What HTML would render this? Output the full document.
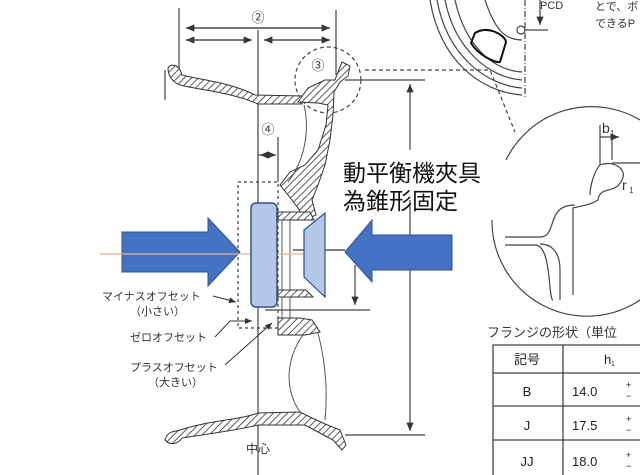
<!DOCTYPE html>
<html><head><meta charset="utf-8"><style>
body{margin:0;background:#fff}
svg{display:block}
text{font-family:"Liberation Sans","Noto Sans CJK JP",sans-serif}
</style></head><body>
<svg width="640" height="475" viewBox="0 0 640 475" xmlns="http://www.w3.org/2000/svg">
<defs>
<pattern id="h" width="5" height="5" patternUnits="userSpaceOnUse" patternTransform="rotate(45)">
<rect width="5" height="5" fill="#fff"/><line x1="0" y1="0" x2="0" y2="5" stroke="#333" stroke-width="1.6"/></pattern>
<marker id="a" markerWidth="8" markerHeight="8" refX="7" refY="4" orient="auto"><path d="M0,1 L7,4 L0,7z" fill="#333"/></marker>
</defs>
<g stroke="#444" fill="none" stroke-width="1.2">
<line x1="179" y1="8" x2="179" y2="68"/><line x1="336" y1="10" x2="336" y2="75"/>
<line x1="258" y1="30" x2="258" y2="475"/>
<line x1="186" y1="28" x2="330" y2="28" marker-end="url(#a)"/><line x1="330" y1="28" x2="186" y2="28" marker-end="url(#a)"/>
<line x1="250" y1="40" x2="186" y2="40" marker-end="url(#a)"/><line x1="186" y1="40" x2="252" y2="40" marker-end="url(#a)"/>
<line x1="330" y1="40" x2="264" y2="40" marker-end="url(#a)"/><line x1="264" y1="40" x2="330" y2="40" marker-end="url(#a)"/>
<line x1="165" y1="70" x2="165" y2="100"/>
<line x1="278" y1="137" x2="278" y2="182"/>
<line x1="258" y1="155" x2="276" y2="155" marker-end="url(#a)"/><line x1="276" y1="155" x2="260" y2="155" marker-end="url(#a)"/>
<line x1="345" y1="80" x2="425" y2="80"/><line x1="345" y1="435" x2="425" y2="435"/>
<line x1="410" y1="150" x2="410" y2="84" marker-end="url(#a)"/><line x1="410" y1="200" x2="410" y2="431" marker-end="url(#a)"/>
<line x1="355" y1="265" x2="355" y2="305" marker-end="url(#a)"/>
<line x1="265" y1="310" x2="370" y2="310"/>
<circle cx="328" cy="80" r="33" stroke-dasharray="4,3"/>
<path d="M365,70 H490 L515,132" stroke-dasharray="4,3"/>
<rect x="238" y="182" width="40" height="146" stroke-dasharray="3,3"/>
<path d="M506,160 A95,95 0 0,1 640,120" /><path d="M492,220 A95,95 0 0,0 640,300"/>
<path d="M600,165 C612,160 628,168 622,180 C615,195 600,185 598,200 C590,205 585,205 573,208 V295"/>
<path d="M600,165 C595,170 590,185 590,195"/>
<path d="M505,237 H540 C558,237 545,205 575,205"/>
<path d="M505,245 H535 C552,245 548,300 553,300"/>
<path d="M560,300 V270 C560,250 550,244 540,244"/>
<line x1="600" y1="125" x2="600" y2="165"/><line x1="612" y1="140" x2="612" y2="160"/><line x1="612" y1="163" x2="640" y2="163"/>
<line x1="600" y1="137" x2="619" y2="137" marker-end="url(#a)"/>
<path d="M430,0 C440,60 480,92 522,95"/><path d="M437,0 C447,55 485,85 522,88"/><path d="M445,0 C455,50 490,78 522,80"/><path d="M455,0 C465,45 492,70 522,72"/>
<path d="M485,0 C495,30 505,40 522,40"/>
<path d="M475,33 C488,25 505,35 506,42 L500,62 C495,63 478,55 471,43z" stroke="#111" stroke-width="2"/>
<line x1="525" y1="0" x2="525" y2="98" stroke-dasharray="6,2,1,2"/>
<line x1="540" y1="0" x2="540" y2="25" marker-end="url(#a)"/><line x1="525" y1="30" x2="548" y2="30"/>
<circle cx="521" cy="30" r="4"/>
</g>
<g stroke="#333" stroke-width="1" fill="url(#h)">
<path d="M168,68 C172,62 180,66 182,75 C200,80 230,82 255,95 L302,96 L302,104 L258,104 C230,92 200,90 180,85 C172,82 168,75 168,68z"/>
<path d="M298,102 L308,88 L325,80 L335,80 L338,72 L342,62 L350,66 L348,76 L340,82 L334,92 L333,115 L330,140 L325,165 L318,185 L312,200 L316,215 L305,220 L298,208 L288,195 L280,185 L290,172 L305,165 L318,150 L326,125 L328,105 L318,103 Z"/>
<path d="M278,212 H310 L314,220 H278 Z"/>
<path d="M278,290 H306 L313,297 H278z"/>
<path d="M278,318 H300 L312,320 L320,332 L305,335 H278z"/>
<path d="M165,440 C168,430 175,432 180,430 C210,420 240,420 258,413 L300,412 L312,418 L325,424 L340,430 L346,445 L342,450 L333,440 L318,432 L305,425 L258,425 C240,430 200,435 182,438 C178,444 170,446 165,440z"/>
</g>
<g stroke="#555" fill="none" stroke-width="1">
<path d="M304,105 C310,130 305,160 288,182"/>
<path d="M303,335 C285,360 285,390 300,412"/>
<path d="M318,333 C325,360 328,390 325,420"/>
<path d="M282,220 V290 M290,220 V290 M282,297 V318 M290,297 V318"/>
</g>
<path d="M122,232 H208 V218 L240,252 L208,286 V272 H122z" fill="#4472c4" stroke="#2f528f"/>
<path d="M452,235 H372 V220 L345,252 L372,282 V270 H452z" fill="#4472c4" stroke="#2f528f"/>
<line x1="100" y1="254" x2="305" y2="254" stroke="#f4b183" stroke-width="1.3"/>
<line x1="293" y1="250" x2="345" y2="250" stroke="#333" stroke-width="1.2"/>
<rect x="251" y="203" width="26" height="104" rx="5" fill="#b4c7e7" stroke="#2f528f" stroke-width="1.5"/>
<path d="M304,230 L325,213 V297 L304,277z" fill="#b4c7e7" stroke="#2f528f" stroke-width="1.2"/>
<g stroke="#333" fill="none" stroke-width="1">
<line x1="213" y1="296" x2="236" y2="302" marker-end="url(#a)"/>
<path d="M215,337 L230,321 H252" marker-end="url(#a)"/>
<line x1="225" y1="365" x2="272" y2="323" marker-end="url(#a)"/>
</g>
<g fill="#333">
<text x="258" y="22" font-size="13" text-anchor="middle">②</text>
<text x="318" y="70" font-size="13" text-anchor="middle">③</text>
<text x="268" y="134" font-size="13" text-anchor="middle">④</text>
<text x="102" y="300" font-size="11">マイナスオフセット</text>
<text x="130" y="315" font-size="11">（小さい）</text>
<text x="130" y="341" font-size="11">ゼロオフセット</text>
<text x="130" y="371" font-size="11">プラスオフセット</text>
<text x="148" y="386" font-size="11">（大きい）</text>
<text x="258" y="453" font-size="12" text-anchor="middle">中心</text>
<text x="540" y="9" font-size="11">PCD</text>
<text x="595" y="10" font-size="11">とで、ボ</text>
<text x="595" y="27" font-size="11">できるP</text>
<text x="602" y="133" font-size="14">b</text><text x="610" y="136" font-size="8">1</text>
<text x="622" y="190" font-size="14">r</text><text x="629" y="193" font-size="8">1</text>
<text x="487" y="337" font-size="13">フランジの形状（単位</text>
</g>
<text x="343" y="181" font-size="23" fill="#111" font-family="'Liberation Serif','Noto Serif CJK SC',serif">動平衡機夾具</text>
<text x="343" y="209" font-size="23" fill="#111" font-family="'Liberation Serif','Noto Serif CJK SC',serif">為錐形固定</text>
<g stroke="#444" fill="none" stroke-width="1.3">
<path d="M493,475 V345 H640 M493,373 H640 M493,406 H640 M493,440 H640 M563,345 V475"/>
</g>
<g fill="#222" font-size="13">
<text x="527" y="364" text-anchor="middle">記号</text>
<text x="604" y="364">h</text><text x="611" y="366" font-size="7">1</text>
<text x="527" y="396" text-anchor="middle">B</text><text x="572" y="396">14.0</text>
<text x="527" y="430" text-anchor="middle">J</text><text x="572" y="430">17.5</text>
<text x="527" y="466" text-anchor="middle">JJ</text><text x="572" y="466">18.0</text>
<text x="626" y="388" font-size="9">+</text><text x="626" y="399" font-size="9">−</text>
<text x="626" y="422" font-size="9">+</text><text x="626" y="433" font-size="9">−</text>
<text x="626" y="458" font-size="9">+</text><text x="626" y="469" font-size="9">−</text>
</g>
</svg>
</body></html>
